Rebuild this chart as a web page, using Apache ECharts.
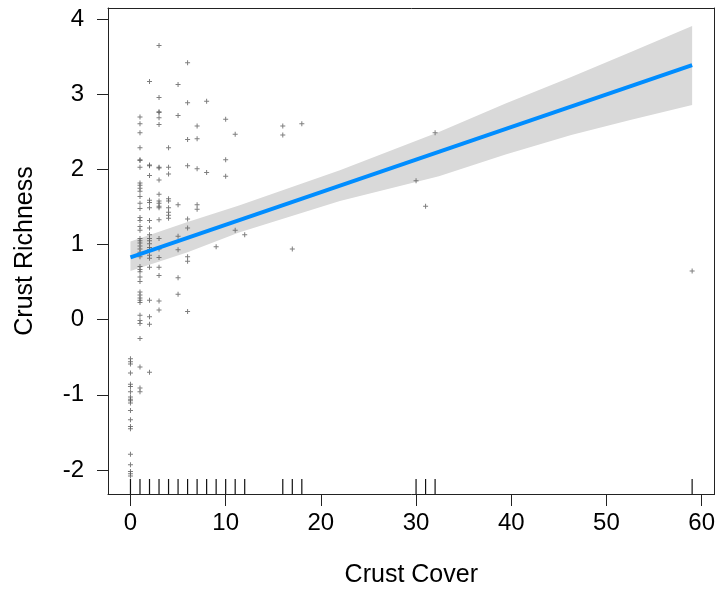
<!DOCTYPE html>
<html>
<head>
<meta charset="utf-8">
<script src="https://cdn.jsdelivr.net/npm/echarts@6/dist/echarts.min.js"></script>
<style>
html,body{margin:0;padding:0;background:#fff;}
#chart{width:718px;height:597px;}
</style>
</head>
<body>
<div id="chart"></div>
<script>
// x positions of the point columns (Crust Cover)
const coverValues = [0, 1, 2, 3, 4, 5, 6, 7, 8, 9, 10, 11, 12, 16, 17, 18, 30, 31, 32, 59];
// partial residuals (Crust Richness) for each cover value, same order
const richnessByCover = [
  [-0.52, -0.56, -0.59, -0.71, -0.86, -0.89, -0.96, -1.03, -1.06, -1.08, -1.11, -1.21, -1.33, -1.42, -1.45, -1.79, -1.93, -2.02, -2.05, -2.08],
  [2.70, 2.61, 2.49, 2.29, 2.13, 2.12, 2.03, 1.82, 1.79, 1.75, 1.71, 1.64, 1.55, 1.48, 1.36, 1.32, 1.24, 1.19, 1.08, 1.05, 1.02, 0.98, 0.94, 0.90, 0.84, 0.71, 0.67, 0.64, 0.57, 0.51, 0.37, 0.33, 0.29, 0.26, 0.23, 0.06, -0.01, -0.05, -0.25, -0.63, -0.91, -0.96],
  [3.17, 2.05, 2.06, 1.92, 1.59, 1.56, 1.49, 1.32, 1.22, 1.13, 1.08, 1.05, 1.01, 0.96, 0.93, 0.86, 0.82, 0.70, 0.26, 0.04, -0.06, -0.70],
  [3.65, 2.96, 2.77, 2.76, 2.69, 2.60, 2.03, 2.02, 1.86, 1.67, 1.58, 1.55, 1.51, 1.49, 1.33, 1.08, 0.94, 0.83, 0.70, 0.59, 0.25, 0.13],
  [2.29, 2.03, 1.94, 1.61, 1.58, 1.49, 1.43, 1.39, 1.35],
  [3.13, 2.72, 1.53, 1.11, 0.93, 0.56, 0.34],
  [3.42, 2.89, 2.40, 2.05, 1.34, 1.22, 0.84, 0.78, 0.11],
  [2.58, 2.41, 2.01, 1.53, 1.47],
  [2.91, 1.96],
  [0.97],
  [2.67, 2.13, 1.91],
  [2.47, 1.19],
  [1.13],
  [2.58, 2.46],
  [0.94],
  [2.61],
  [1.85],
  [1.51],
  [2.49],
  [0.65]
];
// rug (observed cover values)
const rugValues = [0, 1, 2, 3, 4, 5, 6, 7, 8, 9, 10, 11, 12, 16, 17, 18, 30, 31, 32, 59];
// fitted line end points
const fitX = [0, 59];
const fitY = [0.83, 3.39];
// confidence band
const bandX = [0, 6, 11.4, 22, 32.4, 39.4, 46.3, 52.5, 59];
const bandUpper = [1.04, 1.30, 1.52, 1.99, 2.50, 2.88, 3.23, 3.56, 3.91];
const bandLower = [0.65, 0.90, 1.16, 1.58, 1.91, 2.20, 2.46, 2.66, 2.86];
// axis ticks
const xTicks = [0, 10, 20, 30, 40, 50, 60];
const yTicks = [-2, -1, 0, 1, 2, 3, 4];

const X_MIN = -2.36, X_MAX = 61.36, Y_MIN = -2.32, Y_MAX = 4.15;

const points = [];
coverValues.forEach((c, i) => richnessByCover[i].forEach(r => points.push([c, r])));

const FONT = '"Liberation Sans", Arial, sans-serif';
const LINE = {show: true, onZero: false, lineStyle: {color: '#222', width: 1}};
const chart = echarts.init(document.getElementById('chart'), null, {renderer: 'canvas'});
chart.setOption({
  animation: false,
  backgroundColor: '#fff',
  grid: {left: 108, right: 2, top: 8, bottom: 103},
  xAxis: [{
    type: 'value', min: X_MIN, max: X_MAX, position: 'bottom',
    name: 'Crust Cover', nameLocation: 'middle', nameGap: 69,
    nameTextStyle: {fontFamily: FONT, fontSize: 25, color: '#000'},
    axisLine: LINE,
    splitLine: {show: false},
    axisTick: {show: true, length: 12, lineStyle: {color: '#222', width: 1}, customValues: xTicks},
    axisLabel: {fontFamily: FONT, fontSize: 24, color: '#000', margin: 17, customValues: xTicks}
  }, {
    type: 'value', min: X_MIN, max: X_MAX, position: 'top',
    axisLine: LINE, axisTick: {show: false}, axisLabel: {show: false}, splitLine: {show: false}
  }],
  yAxis: [{
    type: 'value', min: Y_MIN, max: Y_MAX, position: 'left',
    name: 'Crust Richness', nameLocation: 'middle', nameGap: 70,
    nameTextStyle: {fontFamily: FONT, fontSize: 25, color: '#000'},
    axisLine: LINE,
    splitLine: {show: false},
    axisTick: {show: true, length: 11, lineStyle: {color: '#222', width: 1}, customValues: yTicks},
    axisLabel: {fontFamily: FONT, fontSize: 24, color: '#000', margin: 24, customValues: yTicks}
  }, {
    type: 'value', min: Y_MIN, max: Y_MAX, position: 'right',
    axisLine: LINE, axisTick: {show: false}, axisLabel: {show: false}, splitLine: {show: false}
  }],
  series: [
    {
      type: 'custom', z: 1, silent: true,
      data: [[0, 0]],
      renderItem: function (params, api) {
        const pts = [];
        for (let i = 0; i < bandX.length; i++) pts.push(api.coord([bandX[i], bandUpper[i]]));
        for (let i = bandX.length - 1; i >= 0; i--) pts.push(api.coord([bandX[i], bandLower[i]]));
        return {type: 'polygon', shape: {points: pts}, style: {fill: '#D9D9D9', stroke: null}};
      }
    },
    {
      type: 'scatter', z: 2, silent: true,
      data: points,
      symbol: 'path://M2,0H3V2H5V3H3V5H2V3H0V2H2Z',
      symbolSize: 5,
      itemStyle: {color: '#5e5e5e'}
    },
    {
      type: 'line', z: 3, silent: true,
      data: fitX.map((x, i) => [x, fitY[i]]),
      symbol: 'none',
      lineStyle: {color: '#008DFF', width: 4}
    },
    {
      type: 'custom', z: 4, silent: true,
      data: rugValues.map(v => [v, Y_MIN]),
      renderItem: function (params, api) {
        const p = api.coord([api.value(0), Y_MIN]);
        return {type: 'line', shape: {x1: p[0], y1: p[1], x2: p[0], y2: p[1] - 15}, style: {stroke: '#111', lineWidth: 1.2}};
      }
    }
  ]
});
</script>
</body>
</html>
